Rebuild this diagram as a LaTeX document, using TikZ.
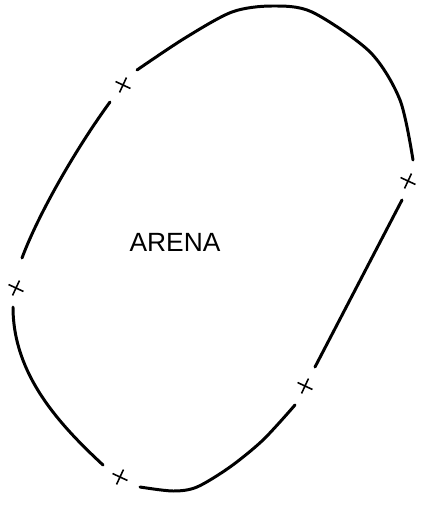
\documentclass[tikz,border=0pt]{standalone}
\usepackage{fontspec}
\setmainfont{Liberation Sans}
\usetikzlibrary{shapes.misc}

\begin{document}
\begin{tikzpicture}[x=0.02cm, y=-0.02cm,
  wall/.style={line width=1.7pt, line cap=round, line join=round},
  gate/.style={draw, cross out, line width=0.9pt, minimum size=0.2cm, inner sep=0pt}]

\useasboundingbox (0,0) rectangle (440,510);

\node (arena) at (175,242) {\fontsize{15}{16}\selectfont ARENA};

\node (gnw) [gate, rotate=20] at (123,85) {};
\node (ge) [gate, rotate=20] at (408,181) {};
\node (gse) [gate, rotate=20] at (305,386) {};
\node (gs) [gate, rotate=20] at (120,477) {};
\node (gw) [gate, rotate=20] at (16,288) {};

\draw[wall] plot[smooth] coordinates {(137,70) (185,38) (232,12) (272,6) (312,12) (370,52) (400,100) (413,160)};
\draw[wall] (402,200) -- (315,367);
\draw[wall] plot[smooth] coordinates {(295,405) (263,440) (230,467) (197,487) (173,491) (140,487)};
\draw[wall] (103,465) .. controls (60,425) and (13,375) .. (13,307);
\draw[wall] (22,258) .. controls (38,215) and (75,150) .. (110,102);

\end{tikzpicture}
\end{document}
